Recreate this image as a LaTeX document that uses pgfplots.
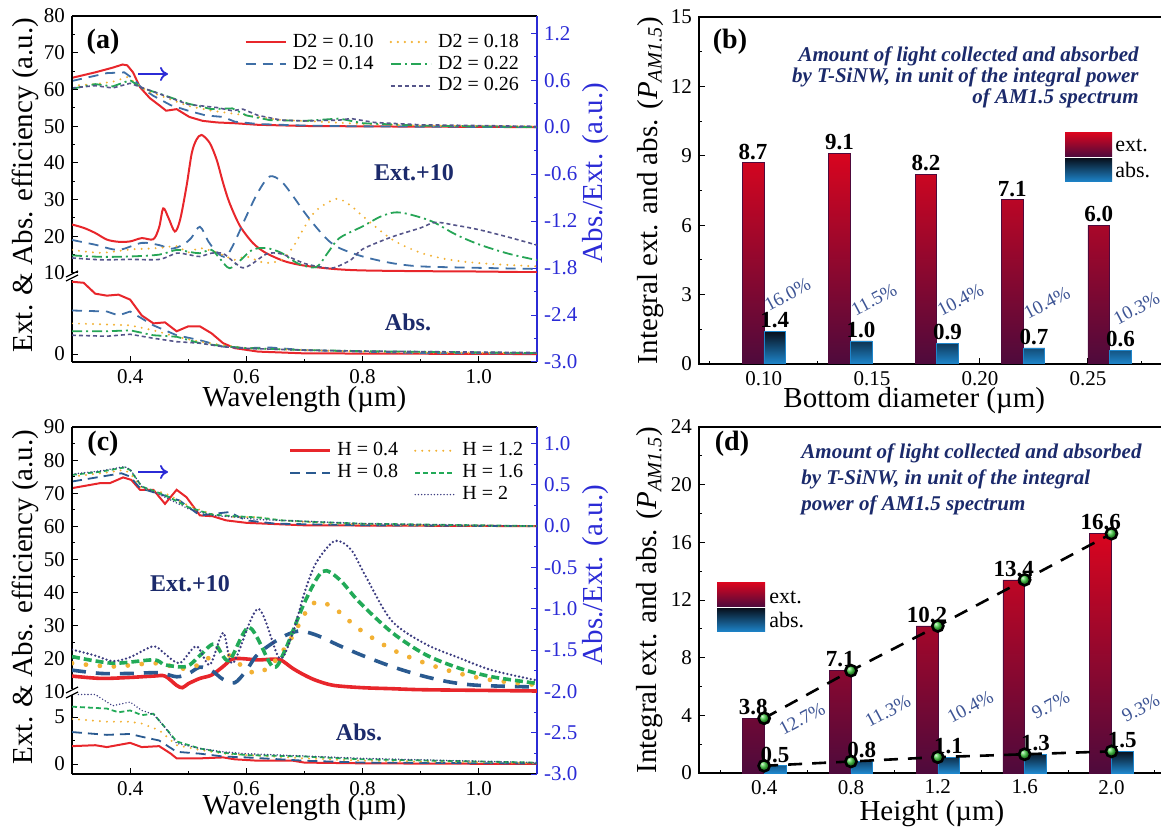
\documentclass[border=0pt]{standalone}
\usepackage{fontspec}
\setmainfont{Liberation Serif}
\usepackage{pgfplots}
\pgfplotsset{compat=1.18}
\usetikzlibrary{arrows.meta}

\definecolor{cR}{HTML}{E8262B}
\definecolor{cBa}{HTML}{3F6FA6}
\definecolor{cY}{HTML}{F2B134}
\definecolor{cGa}{HTML}{26A556}
\definecolor{cPa}{HTML}{55558A}
\definecolor{cBc}{HTML}{2A5A90}
\definecolor{cGc}{HTML}{22AA58}
\definecolor{cNc}{HTML}{3C3C80}
\definecolor{axblue}{HTML}{2B2BD6}
\definecolor{navytxt}{HTML}{1B2A6B}
\definecolor{pct}{HTML}{3D5494}
\definecolor{extTop}{HTML}{D8051F}
\definecolor{extBot}{HTML}{4E0A3C}
\definecolor{absTop}{HTML}{08111E}
\definecolor{absBot}{HTML}{1E86CC}
\definecolor{ballc}{HTML}{3CC83C}

\tikzset{
  sA1/.style={cR, line width=1pt},
  sA2/.style={cBa, line width=0.9pt, dash pattern=on 5pt off 3.5pt},
  sA3/.style={cY, line width=1.1pt, dash pattern=on 0pt off 3.5pt, line cap=round},
  sA4/.style={cGa, line width=0.9pt, dash pattern=on 5pt off 2pt on 1pt off 2pt},
  sA5/.style={cPa, line width=0.8pt, dash pattern=on 2pt off 1.5pt},
  sC1/.style={cR, line width=1.8pt},
  sC2/.style={cBc, line width=1.8pt, dash pattern=on 7pt off 5pt},
  sC3/.style={cY, line width=2.4pt, dash pattern=on 0pt off 7pt, line cap=round},
  sC4/.style={cGc, line width=1.8pt, dash pattern=on 4pt off 2pt},
  sC5/.style={cNc, line width=1.3pt, dash pattern=on 0pt off 2pt, line cap=round},
  tC1/.style={cR, line width=1pt},
  tC2/.style={cBc, line width=0.9pt, dash pattern=on 5pt off 3pt},
  tC3/.style={cY, line width=1.1pt, dash pattern=on 0pt off 3.5pt, line cap=round},
  tC4/.style={cGc, line width=0.9pt, dash pattern=on 2.5pt off 1.5pt},
  tC5/.style={cNc, line width=0.8pt, dash pattern=on 0pt off 1.6pt, line cap=round},
}

\pgfplotsset{
  base/.style={
    scale only axis, anchor=south west,
    tick align=inside,
    major tick length=2.8pt, minor tick length=1.6pt,
    tick style={line width=0.5pt, black},
    axis line style={line width=0.6pt},
    tick label style={font=\fontsize{10.5}{12}\selectfont},
    label style={font=\fontsize{14.5}{16}\selectfont},
    /pgf/number format/assume math mode=true,
  },
  wl/.style={base, xmin=0.3, xmax=1.1, width=232.5pt},
  frame/.style={wl, axis x line=box, axis y line=none, ytick=\empty, ymin=0, ymax=1,
    xtick={0.4,0.6,0.8,1.0}, minor xtick={0.3,0.5,0.7,0.9,1.1}, xtick pos=bottom,
    xticklabel style={/pgf/number format/.cd, fixed, fixed zerofill, precision=1},
    xlabel={Wavelength (µm)}},
  rightax/.style={wl, axis x line=none, xtick=\empty, axis y line*=right,
    axis line style={axblue, line width=0.6pt},
    tick style={axblue, line width=0.5pt},
    yticklabel style={text=axblue, /pgf/number format/.cd, fixed, fixed zerofill, precision=1},
    minor y tick num=1, ylabel={Abs./Ext. (a.u.)}},
  seg/.style={wl, axis x line=none, xtick=\empty, axis y line*=left},
  legwl/.style={legend cell align=left,
    legend image code/.code={\draw[##1] (0pt,0pt) -- (20pt,0pt);},
    legend style={draw=none, fill=none, anchor=north west, inner sep=0pt,
      nodes={inner sep=1pt},
      font=\fontsize{10}{11}\selectfont, row sep=0.8pt,
      /tikz/every odd column/.append style={column sep=2pt},
      /tikz/every even column/.append style={column sep=7pt}}},
  barax/.style={base, xtick pos=bottom, ytick pos=left,
    ylabel={Integral ext. and abs. (\textit{P}\textsubscript{\textit{AM1.5}})}},
  extbar/.style={ybar, draw=extBot, line width=0.3pt, top color=extTop, bottom color=extBot},
  absbar/.style={ybar, draw=absBot, line width=0.3pt, top color=absTop, bottom color=absBot},
  vlab/.style={draw=none, mark=none, forget plot,
    nodes near coords={\pgfmathprintnumber[fixed,fixed zerofill,precision=1]{\pgfplotspointmeta}},
    nodes near coords style={font=\bfseries\fontsize{11.5}{13}\selectfont, text=black, anchor=south, inner sep=1.5pt}},
}

\begin{document}
\begin{tikzpicture}
\useasboundingbox (0pt,0pt) rectangle (580.5pt,415pt);

%================ (a) ================
\begin{axis}[frame, at={(36pt,234pt)}, height=173pt,
  xlabel style={font=\fontsize{14.5}{16}\selectfont, at={(axis description cs:0.5,-0.11)}, anchor=center}]
\end{axis}

\begin{axis}[rightax, at={(36pt,234pt)}, height=173pt, ymin=-3.0, ymax=1.42,
  ytick={-3.0,-2.4,-1.8,-1.2,-0.6,0.0,0.6,1.2},
  ylabel style={font=\fontsize{14.5}{16}\selectfont, at={(axis description cs:1.125,0.546)}, anchor=center, text=axblue}]
\addplot[sA1] coordinates {(0.30,0.63)(0.34,0.70)(0.37,0.76)(0.387,0.80)(0.395,0.79)(0.405,0.70)(0.417,0.51)(0.434,0.37)(0.45,0.28)(0.462,0.21)(0.48,0.23)(0.502,0.13)(0.525,0.08)(0.55,0.06)(0.58,0.05)(0.62,0.03)(0.70,0.015)(0.80,0.01)(1.10,0.0)};
\addplot[sA2] coordinates {(0.30,0.59)(0.33,0.64)(0.36,0.69)(0.39,0.70)(0.405,0.62)(0.42,0.50)(0.44,0.40)(0.47,0.28)(0.50,0.21)(0.53,0.15)(0.56,0.13)(0.58,0.07)(0.62,0.04)(0.70,0.02)(0.80,0.01)(1.10,0.0)};
\addplot[sA3] coordinates {(0.30,0.53)(0.34,0.55)(0.37,0.58)(0.395,0.64)(0.41,0.56)(0.43,0.46)(0.46,0.38)(0.50,0.27)(0.54,0.21)(0.58,0.17)(0.62,0.13)(0.66,0.09)(0.70,0.08)(0.75,0.06)(0.80,0.04)(0.90,0.02)(1.10,0.01)};
\addplot[sA4] coordinates {(0.30,0.49)(0.34,0.55)(0.37,0.52)(0.40,0.60)(0.42,0.50)(0.45,0.43)(0.50,0.30)(0.54,0.23)(0.576,0.24)(0.60,0.15)(0.64,0.09)(0.70,0.08)(0.76,0.11)(0.80,0.05)(0.90,0.02)(1.10,0.0)};
\addplot[sA5] coordinates {(0.30,0.50)(0.34,0.53)(0.37,0.50)(0.40,0.56)(0.43,0.48)(0.46,0.40)(0.50,0.29)(0.55,0.25)(0.575,0.21)(0.594,0.23)(0.62,0.15)(0.66,0.09)(0.70,0.08)(0.76,0.09)(0.78,0.11)(0.82,0.06)(0.90,0.03)(1.10,0.01)};
\end{axis}

\begin{axis}[seg, legwl, at={(36pt,278.5pt)}, height=128.5pt, ymin=10, ymax=80,
  ytick={10,20,...,80}, minor y tick num=1,
  legend columns=2, legend style={at={(0.37,0.94)}}]
\addlegendimage{sA1, line width=1.2pt}\addlegendentry{D2 = 0.10}
\addlegendimage{sA3, line width=1.3pt}\addlegendentry{D2 = 0.18}
\addlegendimage{sA2, line width=1.2pt}\addlegendentry{D2 = 0.14}
\addlegendimage{sA4, line width=1.2pt}\addlegendentry{D2 = 0.22}
\addlegendimage{empty legend}\addlegendentry{}
\addlegendimage{sA5, line width=1.1pt}\addlegendentry{D2 = 0.26}
\addplot[sA1, smooth, forget plot] coordinates {(0.30,23.2)(0.32,22.3)(0.34,20.9)(0.36,19.1)(0.38,18.5)(0.40,18.6)(0.42,19.5)(0.44,19.2)(0.45,22.5)(0.457,27.6)(0.466,25.0)(0.477,21.3)(0.486,24.5)(0.497,33.6)(0.506,42.6)(0.514,46.3)(0.523,47.6)(0.537,45.4)(0.549,40.8)(0.56,34.5)(0.571,29.1)(0.589,22.8)(0.611,18.2)(0.63,15.8)(0.65,14.2)(0.67,13.0)(0.70,12.0)(0.75,11.1)(0.80,10.7)(0.90,10.5)(1.00,10.4)(1.10,10.2)};
\addplot[sA2, smooth, forget plot] coordinates {(0.30,19.0)(0.34,17.7)(0.38,16.3)(0.42,18.2)(0.45,17.6)(0.47,16.6)(0.49,17.6)(0.505,19.5)(0.52,22.6)(0.535,18.5)(0.55,15.5)(0.565,14.5)(0.58,18.5)(0.60,25.5)(0.62,32.0)(0.64,36.3)(0.66,35.0)(0.68,31.0)(0.70,26.5)(0.72,22.5)(0.74,19.0)(0.76,16.8)(0.80,14.5)(0.85,12.7)(0.90,11.8)(1.00,11.4)(1.10,11.1)};
\addplot[sA3, smooth, forget plot] coordinates {(0.30,16.3)(0.35,15.5)(0.40,16.4)(0.45,16.8)(0.48,17.3)(0.50,15.6)(0.52,16.8)(0.55,15.5)(0.58,13.6)(0.60,14.5)(0.63,12.8)(0.66,13.5)(0.68,17.0)(0.70,22.5)(0.72,27.0)(0.755,30.2)(0.78,28.3)(0.80,25.5)(0.85,19.2)(0.90,15.5)(0.95,13.6)(1.00,12.7)(1.05,12.2)(1.10,11.8)};
\addplot[sA4, smooth, forget plot] coordinates {(0.30,14.8)(0.35,14.4)(0.40,14.5)(0.45,15.0)(0.48,16.3)(0.50,15.8)(0.52,15.4)(0.54,16.3)(0.555,13.8)(0.571,11.3)(0.59,13.5)(0.61,16.3)(0.634,16.8)(0.66,15.5)(0.69,12.5)(0.72,11.6)(0.74,15.5)(0.76,19.5)(0.80,22.7)(0.83,25.3)(0.855,26.5)(0.88,26.0)(0.92,24.0)(0.96,20.5)(1.00,17.8)(1.05,15.3)(1.10,13.5)};
\addplot[sA5, smooth, forget plot] coordinates {(0.30,14.1)(0.35,13.6)(0.40,13.7)(0.45,13.7)(0.48,15.4)(0.50,15.0)(0.52,14.5)(0.54,15.4)(0.56,15.3)(0.58,12.8)(0.594,11.4)(0.61,12.5)(0.635,15.2)(0.66,15.2)(0.70,12.6)(0.73,11.6)(0.75,11.4)(0.78,13.6)(0.80,16.5)(0.85,19.8)(0.90,22.3)(0.925,23.8)(0.96,23.0)(1.00,21.8)(1.05,19.8)(1.10,17.6)};
\end{axis}

\begin{axis}[seg, at={(36pt,234pt)}, height=41.1pt, ymin=-0.8, ymax=7.5, ytick={0}]
\addplot[sA1] coordinates {(0.30,7.3)(0.32,7.2)(0.34,6.1)(0.36,5.9)(0.38,6.0)(0.40,5.5)(0.42,3.9)(0.44,3.1)(0.46,3.2)(0.48,2.3)(0.50,2.8)(0.52,2.8)(0.54,2.1)(0.56,1.1)(0.58,0.6)(0.62,0.25)(0.70,0.07)(1.10,0.0)};
\addplot[sA2] coordinates {(0.30,4.4)(0.36,4.3)(0.38,3.9)(0.40,4.3)(0.42,3.6)(0.44,2.9)(0.48,1.9)(0.52,1.4)(0.56,0.75)(0.60,0.6)(0.64,0.67)(0.70,0.4)(0.80,0.24)(0.90,0.1)(1.10,0.05)};
\addplot[sA3] coordinates {(0.30,3.1)(0.35,3.0)(0.40,2.9)(0.44,2.4)(0.48,1.75)(0.52,1.25)(0.56,0.9)(0.60,0.6)(0.70,0.4)(0.80,0.25)(0.90,0.15)(1.10,0.1)};
\addplot[sA4] coordinates {(0.30,2.3)(0.36,2.3)(0.40,2.4)(0.44,1.9)(0.48,1.75)(0.52,1.1)(0.56,0.8)(0.60,0.6)(0.70,0.4)(0.80,0.3)(1.10,0.1)};
\addplot[sA5] coordinates {(0.30,1.9)(0.36,1.8)(0.40,2.0)(0.44,1.6)(0.48,1.25)(0.52,1.1)(0.56,0.74)(0.60,0.57)(0.70,0.4)(0.80,0.3)(1.10,0.15)};
\end{axis}

\draw[line width=0.6pt] (33pt,274.5pt) -- (39pt,277.5pt) (33pt,276.5pt) -- (39pt,279.5pt);
\node[rotate=90, font=\fontsize{14.5}{16}\selectfont] at (12.5pt,322.5pt) {Ext. \& Abs. efficiency (a.u.)};
\node[font=\bfseries\fontsize{14}{16}\selectfont] at (51.5pt,394pt) {(a)};
\node[font=\bfseries\fontsize{12}{14}\selectfont, text=navytxt] at (207pt,328.5pt) {Ext.+10};
\node[font=\bfseries\fontsize{12}{14}\selectfont, text=navytxt] at (204pt,254pt) {Abs.};
\draw[axblue, line width=0.9pt, -{To[length=4pt,width=7pt]}] (69pt,378pt) -- (84pt,378pt);

%================ (c) ================
\begin{axis}[frame, at={(36pt,28pt)}, height=173.5pt,
  xlabel style={font=\fontsize{14.5}{16}\selectfont, at={(axis description cs:0.5,-0.098)}, anchor=center}]
\end{axis}

\begin{axis}[rightax, at={(36pt,28pt)}, height=173.5pt, ymin=-3.0, ymax=1.2,
  ytick={-3.0,-2.5,-2.0,-1.5,-1.0,-0.5,0.0,0.5,1.0},
  ylabel style={font=\fontsize{14.5}{16}\selectfont, at={(axis description cs:1.125,0.573)}, anchor=center, text=axblue}]
\addplot[tC1] coordinates {(0.30,0.46)(0.348,0.52)(0.365,0.52)(0.388,0.59)(0.402,0.56)(0.417,0.44)(0.44,0.44)(0.46,0.27)(0.48,0.44)(0.497,0.35)(0.52,0.13)(0.542,0.12)(0.565,0.07)(0.60,0.04)(0.70,0.01)(1.10,0.0)};
\addplot[tC2] coordinates {(0.30,0.54)(0.385,0.64)(0.40,0.60)(0.417,0.46)(0.457,0.375)(0.485,0.31)(0.52,0.13)(0.57,0.17)(0.60,0.07)(0.65,0.03)(0.80,0.01)(1.10,0.0)};
\addplot[tC3] coordinates {(0.30,0.60)(0.35,0.64)(0.39,0.68)(0.40,0.64)(0.42,0.46)(0.46,0.40)(0.50,0.25)(0.54,0.145)(0.58,0.11)(0.62,0.11)(0.66,0.07)(0.75,0.03)(0.90,0.01)(1.10,0.0)};
\addplot[tC4] coordinates {(0.30,0.62)(0.35,0.66)(0.39,0.71)(0.40,0.68)(0.42,0.48)(0.46,0.375)(0.50,0.23)(0.54,0.14)(0.58,0.12)(0.62,0.105)(0.66,0.07)(0.72,0.05)(0.80,0.03)(1.00,0.01)(1.10,0.0)};
\addplot[tC5] coordinates {(0.30,0.63)(0.35,0.67)(0.39,0.72)(0.40,0.69)(0.42,0.48)(0.46,0.35)(0.50,0.21)(0.54,0.13)(0.58,0.11)(0.62,0.08)(0.70,0.06)(0.80,0.03)(1.00,0.01)(1.10,0.0)};
\end{axis}

\begin{axis}[seg, legwl, at={(36pt,69pt)}, height=132.5pt, ymin=10, ymax=90,
  ytick={10,20,...,90}, minor y tick num=1,
  legend columns=2, legend style={at={(0.465,0.95)}}]
\addlegendimage{tC1, line width=1.4pt}\addlegendentry{H = 0.4}
\addlegendimage{tC3}\addlegendentry{H = 1.2}
\addlegendimage{tC2, line width=1.2pt}\addlegendentry{H = 0.8}
\addlegendimage{tC4}\addlegendentry{H = 1.6}
\addlegendimage{empty legend}\addlegendentry{}
\addlegendimage{tC5}\addlegendentry{H = 2}
\addplot[sC1, smooth, forget plot] coordinates {(0.30,14.8)(0.35,14.1)(0.40,14.4)(0.44,14.8)(0.46,14.8)(0.48,12.0)(0.49,11.3)(0.50,12.5)(0.52,14.1)(0.54,15.1)(0.56,17.7)(0.575,19.9)(0.59,20.1)(0.62,19.7)(0.645,19.9)(0.66,19.6)(0.68,17.1)(0.70,15.1)(0.72,13.5)(0.75,12.0)(0.80,11.3)(0.85,11.0)(0.90,10.7)(1.00,10.5)(1.10,10.3)};
\addplot[sC2, smooth, forget plot] coordinates {(0.30,16.6)(0.35,15.6)(0.40,15.6)(0.45,15.8)(0.48,14.6)(0.50,15.5)(0.52,17.5)(0.54,16.5)(0.56,13.8)(0.58,12.8)(0.60,16.5)(0.62,21.5)(0.66,26.4)(0.69,28.4)(0.72,27.2)(0.76,24.0)(0.80,21.0)(0.85,17.7)(0.90,15.0)(0.95,13.0)(1.00,12.0)(1.10,11.5)};
\addplot[sC3, smooth, forget plot] coordinates {(0.30,18.7)(0.37,17.7)(0.44,18.7)(0.474,17.7)(0.50,17.0)(0.53,19.5)(0.554,23.3)(0.58,19.5)(0.617,15.6)(0.65,19.5)(0.68,27.0)(0.70,33.5)(0.72,37.2)(0.75,35.5)(0.794,29.0)(0.851,22.8)(0.908,18.7)(0.966,15.6)(1.022,13.6)(1.10,12.1)};
\addplot[sC4, smooth, forget plot] coordinates {(0.30,20.7)(0.37,18.7)(0.44,19.7)(0.46,18.2)(0.497,17.7)(0.52,21.0)(0.545,24.5)(0.57,19.5)(0.605,29.5)(0.645,17.7)(0.665,22.0)(0.70,37.0)(0.731,46.4)(0.76,44.0)(0.794,37.2)(0.851,27.9)(0.908,21.3)(0.966,17.2)(1.022,14.6)(1.10,12.6)};
\addplot[sC5, smooth, forget plot] coordinates {(0.30,22.8)(0.34,21.0)(0.37,19.3)(0.40,20.5)(0.44,23.8)(0.46,21.5)(0.485,18.7)(0.514,23.8)(0.537,18.2)(0.56,27.9)(0.577,18.7)(0.62,35.1)(0.657,20.2)(0.68,28.0)(0.70,40.0)(0.72,49.0)(0.752,55.6)(0.78,53.0)(0.805,45.0)(0.85,31.5)(0.908,24.5)(0.966,20.3)(1.022,16.6)(1.10,13.5)};
\end{axis}

\begin{axis}[seg, at={(36pt,28pt)}, height=40.7pt, ymin=-1.064, ymax=7.6, ytick={0,5}, minor ytick={2.5}]
\addplot[tC1] coordinates {(0.30,1.9)(0.34,2.0)(0.36,1.8)(0.40,2.25)(0.42,1.8)(0.45,1.9)(0.47,1.1)(0.48,0.6)(0.52,0.6)(0.56,0.7)(0.58,0.5)(0.62,0.35)(0.68,0.35)(0.70,0.15)(0.80,0.07)(1.10,0.0)};
\addplot[tC2] coordinates {(0.30,3.4)(0.36,3.1)(0.40,3.2)(0.42,2.9)(0.45,2.5)(0.48,1.3)(0.52,1.1)(0.56,0.8)(0.60,0.7)(0.70,0.35)(0.80,0.15)(1.10,0.05)};
\addplot[tC3] coordinates {(0.30,4.8)(0.36,4.5)(0.40,4.5)(0.42,4.3)(0.45,3.6)(0.48,2.0)(0.52,1.5)(0.56,1.1)(0.60,0.95)(0.70,0.6)(0.80,0.35)(1.10,0.1)};
\addplot[tC4] coordinates {(0.30,6.1)(0.36,5.9)(0.38,5.5)(0.40,5.7)(0.42,5.2)(0.44,5.35)(0.46,3.9)(0.48,2.4)(0.52,1.65)(0.56,1.2)(0.60,0.95)(0.70,0.8)(0.80,0.5)(1.10,0.15)};
\addplot[tC5] coordinates {(0.30,7.4)(0.34,7.4)(0.37,6.2)(0.40,6.6)(0.42,5.7)(0.44,5.3)(0.46,3.9)(0.48,2.2)(0.52,1.65)(0.56,1.3)(0.60,1.1)(0.70,0.85)(0.80,0.6)(1.10,0.15)};
\end{axis}

\fill[white] (34pt,67.5pt) rectangle (38pt,70.5pt);
\draw[line width=0.6pt] (33pt,66pt) -- (39pt,69pt) (33pt,68.5pt) -- (39pt,71.5pt);
\node[rotate=90, font=\fontsize{14.5}{16}\selectfont] at (12.5pt,116.5pt) {Ext. \& Abs. efficiency (a.u.)};
\node[font=\bfseries\fontsize{14}{16}\selectfont] at (51.5pt,193pt) {(c)};
\node[font=\bfseries\fontsize{12}{14}\selectfont, text=navytxt] at (95pt,123pt) {Ext.+10};
\node[font=\bfseries\fontsize{12}{14}\selectfont, text=navytxt] at (179.5pt,49pt) {Abs.};
\draw[axblue, line width=0.9pt, -{To[length=4pt,width=7pt]}] (69pt,179pt) -- (84pt,179pt);

%================ (b) ================
\begin{axis}[barax, at={(349.5pt,233pt)}, width=248.5pt, height=173.5pt,
  xmin=0.07, xmax=0.30, ymin=0, ymax=15,
  xtick={0.10,0.15,0.20,0.25}, minor xtick={0.075,0.125,0.175,0.225,0.275},
  xticklabel style={/pgf/number format/.cd, fixed, fixed zerofill, precision=2},
  ytick={0,3,...,15}, minor y tick num=1,
  xlabel={Bottom diameter (µm)},
  xlabel style={at={(axis description cs:0.433,-0.104)}, anchor=center},
  ylabel style={at={(axis description cs:-0.098,0.5)}, anchor=center}]
\addplot[extbar, bar width=0.01, bar shift=-0.005] coordinates {(0.10,8.7)(0.14,9.1)(0.18,8.2)(0.22,7.1)(0.26,6.0)};
\addplot[absbar, bar width=0.01, bar shift=0.005] coordinates {(0.10,1.4)(0.14,1.0)(0.18,0.9)(0.22,0.7)(0.26,0.6)};
\addplot[vlab, nodes near coords style={xshift=-5.4pt}] coordinates {(0.10,8.7)(0.14,9.1)(0.18,8.2)(0.22,7.1)(0.26,6.0)};
\addplot[vlab, nodes near coords style={xshift=5.4pt}] coordinates {(0.10,1.4)(0.14,1.0)(0.18,0.9)(0.22,0.7)(0.26,0.6)};
\begin{scope}[every node/.style={rotate=28, text=pct, inner sep=0.5pt, font=\fontsize{9.5}{10}\selectfont}]
\node at (axis cs:0.1110,3.00) {16.0\%};
\node at (axis cs:0.1510,2.78) {11.5\%};
\node at (axis cs:0.1910,2.78) {10.4\%};
\node at (axis cs:0.2310,2.65) {10.4\%};
\node at (axis cs:0.2725,2.40) {10.3\%};
\end{scope}
\end{axis}

\shade[top color=extTop, bottom color=extBot] (532.5pt,336.8pt) rectangle (556pt,348.5pt);
\shade[top color=absTop, bottom color=absBot] (532.5pt,324pt) rectangle (556pt,335.8pt);
\node[anchor=west, font=\fontsize{11}{12}\selectfont, inner sep=1pt] at (556.5pt,342.5pt) {ext.};
\node[anchor=west, font=\fontsize{11}{12}\selectfont, inner sep=1pt] at (556.5pt,330pt) {abs.};
\node[font=\bfseries\fontsize{14}{16}\selectfont] at (365pt,394pt) {(b)};
\node[anchor=base east, align=right, text=navytxt, inner sep=0pt,
  font=\bfseries\itshape\fontsize{10.5}{10.5}\selectfont] at (569.5pt,363pt)
  {Amount of light collected and absorbed\\by T-SiNW, in unit of the integral power\\of AM1.5 spectrum};

%================ (d) ================
\begin{axis}[barax, at={(349.5pt,28.5pt)}, width=260.5pt, height=173pt,
  xmin=0.1, xmax=2.5, ymin=0, ymax=24,
  xtick={0.4,0.8,1.2,1.6,2.0}, minor xtick={0.2,0.6,1.0,1.4,1.8,2.2},
  xticklabel style={/pgf/number format/.cd, fixed, fixed zerofill, precision=1},
  ytick={0,4,...,24}, minor y tick num=1,
  xlabel={Height (µm)},
  xlabel style={at={(axis description cs:0.447,-0.116)}, anchor=center},
  ylabel style={at={(axis description cs:-0.094,0.5)}, anchor=center}]
\addplot[extbar, bar width=0.1, bar shift=-0.05] coordinates {(0.4,3.8)(0.8,7.1)(1.2,10.2)(1.6,13.4)(2.0,16.6)};
\addplot[absbar, bar width=0.1, bar shift=0.05] coordinates {(0.4,0.5)(0.8,0.8)(1.2,1.1)(1.6,1.3)(2.0,1.5)};
\addplot[black, line width=1.3pt, dash pattern=on 7pt off 5pt, mark=ball, mark size=2.8pt,
  mark options={solid, ball color=ballc}] coordinates {(0.4,3.8)(0.8,7.1)(1.2,10.2)(1.6,13.4)(2.0,16.6)};
\addplot[black, line width=1.3pt, dash pattern=on 7pt off 5pt, mark=ball, mark size=2.8pt,
  mark options={solid, ball color=ballc}] coordinates {(0.4,0.5)(0.8,0.8)(1.2,1.1)(1.6,1.3)(2.0,1.5)};
\addplot[vlab, nodes near coords style={xshift=-5.4pt}] coordinates {(0.4,3.8)(0.8,7.1)(1.2,10.2)(1.6,13.4)(2.0,16.6)};
\addplot[vlab, nodes near coords style={xshift=5.4pt}] coordinates {(0.4,0.5)(0.8,0.8)(1.2,1.1)(1.6,1.3)(2.0,1.5)};
\begin{scope}[every node/.style={rotate=28, text=pct, inner sep=0.5pt, font=\fontsize{9.5}{10}\selectfont}]
\node at (axis cs:0.575,3.75) {12.7\%};
\node at (axis cs:0.970,4.30) {11.3\%};
\node at (axis cs:1.350,4.60) {10.4\%};
\node at (axis cs:1.720,4.70) {9.7\%};
\node at (axis cs:2.135,4.50) {9.3\%};
\end{scope}
\end{axis}

\shade[top color=extTop, bottom color=extBot] (358.5pt,111.8pt) rectangle (382.5pt,123.5pt);
\shade[top color=absTop, bottom color=absBot] (358.5pt,99pt) rectangle (382.5pt,110.8pt);
\node[anchor=west, font=\fontsize{11}{12}\selectfont, inner sep=1pt] at (383.5pt,116.5pt) {ext.};
\node[anchor=west, font=\fontsize{11}{12}\selectfont, inner sep=1pt] at (383.5pt,105pt) {abs.};
\node[font=\bfseries\fontsize{14}{16}\selectfont] at (366pt,193pt) {(d)};
\node[anchor=base west, align=left, text=navytxt, inner sep=0pt,
  font=\bfseries\itshape\fontsize{10.5}{13}\selectfont] at (400.5pt,159.5pt)
  {Amount of light collected and absorbed\\by T-SiNW, in unit of the integral\\power of AM1.5 spectrum};
\end{tikzpicture}
\end{document}
